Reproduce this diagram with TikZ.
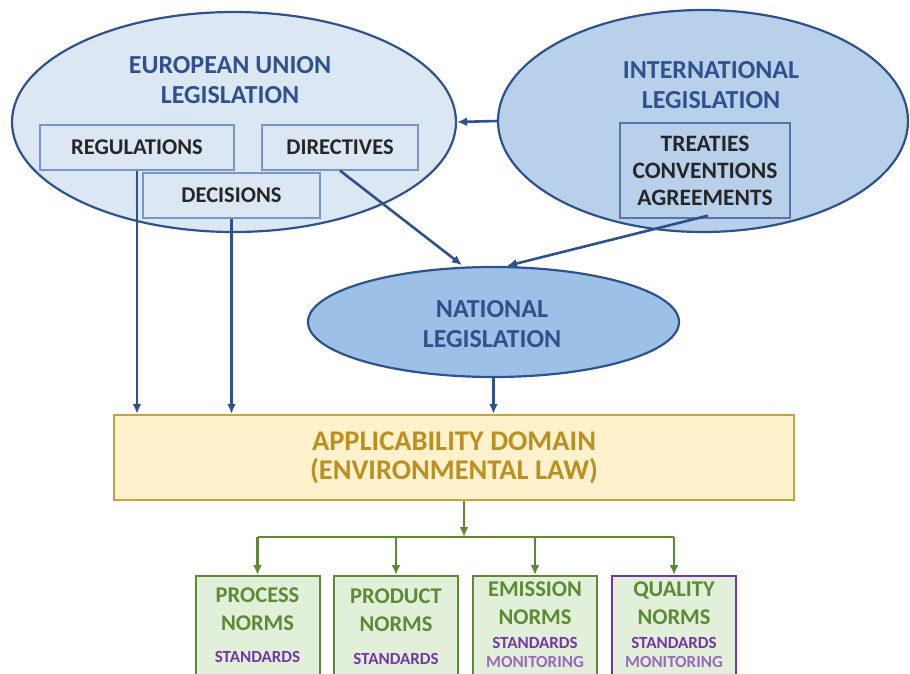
\documentclass[tikz,border=0pt]{standalone}
\usepackage{fontspec}
\setmainfont{Carlito}
\usepackage{tikz}
\usetikzlibrary{shapes.geometric,arrows.meta}

\definecolor{lawblue}{HTML}{2F528F}
\definecolor{eufill}{HTML}{DCE7F4}
\definecolor{intfill}{HTML}{B8D0EA}
\definecolor{natfill}{HTML}{9DC0E6}
\definecolor{boxline}{HTML}{7A96C4}
\definecolor{appfill}{HTML}{FDF2CB}
\definecolor{appline}{HTML}{C9A240}
\definecolor{apptext}{HTML}{BC8F22}
\definecolor{normfill}{HTML}{E2EFD9}
\definecolor{normgreen}{HTML}{5E8A36}
\definecolor{normpurple}{HTML}{7438A6}

\tikzset{
  legell/.style={ellipse,draw=lawblue,line width=2.2pt,inner sep=0pt},
  legtitle/.style={text=lawblue,font=\bfseries\fontsize{26}{30}\selectfont,align=center},
  actbox/.style={draw=boxline,line width=1.2pt,fill=eufill,inner sep=0pt,
    font=\bfseries\fontsize{22.5}{26}\selectfont,text=black!85},
  normbox/.style={draw=normgreen,line width=2pt,fill=normfill,inner sep=0pt,
    minimum width=124pt,minimum height=110pt,anchor=north},
  normtitle/.style={text=normgreen,font=\bfseries\fontsize{22.5}{28}\selectfont,align=center},
  normsub/.style={text=normpurple,font=\bfseries\fontsize{17}{19.5}\selectfont,align=center},
  bluearrow/.style={draw=lawblue,line width=2.6pt,-{Latex[length=10pt,width=9pt]}},
  greenarrow/.style={draw=normgreen,line width=2.8pt,-{Latex[length=10pt,width=9pt]}}
}

\begin{document}
\begin{tikzpicture}[x=1pt,y=-1pt]
  \useasboundingbox (0,0) rectangle (910,673);
  \clip (0,0) rectangle (910,673);

  % legislation levels
  \node[legell,fill=eufill,minimum width=444pt,minimum height=220pt] (eu) at (234,122) {};
  \node[legell,fill=intfill,minimum width=410pt,minimum height=222pt] (intl) at (703,121) {};
  \node[legell,fill=natfill,minimum width=371pt,minimum height=110pt] (nat) at (493.5,322) {};
  \node[legtitle] (eutitle) at (230,80) {EUROPEAN UNION\\LEGISLATION};
  \node[legtitle] (inttitle) at (711,85) {INTERNATIONAL\\LEGISLATION};
  \node[legtitle] (nattitle) at (492,324) {NATIONAL\\LEGISLATION};

  % EU acts
  \node[actbox,minimum width=194pt,minimum height=45pt] (reg) at (137,147.5) {REGULATIONS};
  \node[actbox,minimum width=156pt,minimum height=45pt] (dir) at (340,147.5) {DIRECTIVES};
  \node[actbox,minimum width=177pt,minimum height=45pt] (dec) at (231.5,195.5) {DECISIONS};
  \node[actbox,fill=intfill,draw=lawblue!80,align=center,minimum width=170pt,minimum height=95pt,
    font=\bfseries\fontsize{23.5}{27}\selectfont] (treat) at (705,170.5) {TREATIES\\CONVENTIONS\\AGREEMENTS};

  % domain
  \node[draw=appline,line width=2.4pt,fill=appfill,minimum width=680pt,minimum height=85pt,
    text=apptext,align=center,font=\bfseries\fontsize{28.5}{29}\selectfont] (app) at (454,457.5)
    {APPLICABILITY DOMAIN\\(ENVIRONMENTAL LAW)};

  % norms
  \node[normbox] (proc) at (257.5,575) {};
  \node[normbox] (prod) at (396,575) {};
  \node[normbox] (emis) at (535,575) {};
  \node[normbox,draw=normpurple] (qual) at (674,575) {};
  \node[normtitle] (proct) at (257.5,609) {PROCESS\\NORMS};
  \node[normsub] (procs) at (257.5,657) {STANDARDS};
  \node[normtitle] (prodt) at (396,610) {PRODUCT\\NORMS};
  \node[normsub] (prods) at (396,659) {STANDARDS};
  \node[normtitle] (emist) at (535,603.5) {EMISSION\\NORMS};
  \node[normsub] (emiss) at (535,652.5) {STANDARDS\\\color{normpurple!75}MONITORING};
  \node[normtitle] (qualt) at (674,603.5) {QUALITY\\NORMS};
  \node[normsub] (quals) at (674,652.5) {STANDARDS\\\color{normpurple!75}MONITORING};

  % connectors
  \draw[bluearrow] (intl.west) -- (eu.east);
  \draw[bluearrow] (reg.south) -- (reg.south |- app.north);
  \draw[bluearrow] (dec.south) -- (dec.south |- app.north);
  \draw[bluearrow] (dir.south) -- ([xshift=-31.5pt,yshift=0.8pt]nat.north);
  \draw[bluearrow] ([xshift=3pt,yshift=3pt]treat.south) -- ([xshift=13.5pt]nat.north);
  \draw[bluearrow] (nat.south) -- (nat.south |- app.north);

  \coordinate (split) at (464,537);
  \draw[greenarrow] ([xshift=10pt]app.south) -- (split);
  \draw[normgreen,line width=2.8pt] (proc.north |- split) -- (qual.north |- split);
  \foreach \n in {proc,prod,emis,qual}
    \draw[greenarrow] (\n.north |- split) -- (\n.north);
\end{tikzpicture}
\end{document}
